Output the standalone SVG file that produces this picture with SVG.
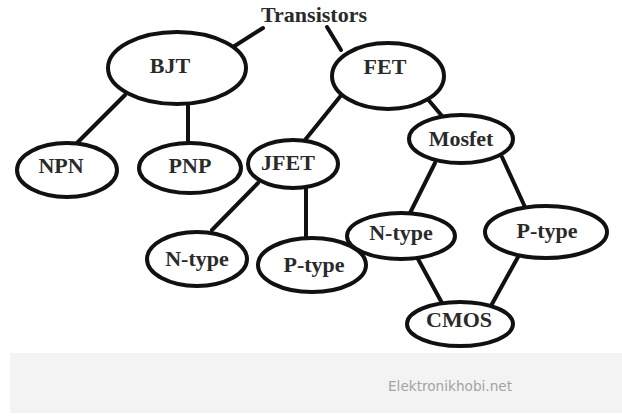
<svg xmlns="http://www.w3.org/2000/svg" width="622" height="419" viewBox="0 0 622 419">
<style>
.n ellipse{fill:#fff;stroke:#111;stroke-width:4}
.n text,.t{font-family:"Liberation Serif","Times New Roman",serif;font-weight:bold;font-size:22px;fill:#2a2a2a;text-anchor:middle}
#edges line{stroke:#111;stroke-width:4;stroke-linecap:round}
</style>
<rect width="622" height="419" fill="#fff"/>
<rect x="10" y="353" width="612" height="60" fill="#f3f3f3"/>
<text x="512" y="391" font-family="DejaVu Sans,Verdana,sans-serif" font-size="14" fill="#a3a3a3" text-anchor="end" textLength="124" lengthAdjust="spacingAndGlyphs">Elektronikhobi.net</text>
<g id="edges">
<line x1="263" y1="28" x2="233" y2="47"/>
<line x1="327" y1="27" x2="341" y2="50"/>
<line x1="125" y1="95" x2="77" y2="143"/>
<line x1="188" y1="104" x2="188" y2="142"/>
<line x1="343" y1="93" x2="305" y2="140"/>
<line x1="426" y1="97" x2="442" y2="116"/>
<line x1="258" y1="183" x2="212" y2="230"/>
<line x1="306" y1="188" x2="306" y2="238"/>
<line x1="435" y1="163" x2="410" y2="213"/>
<line x1="502" y1="157" x2="525" y2="207"/>
<line x1="418" y1="259" x2="442" y2="303"/>
<line x1="518" y1="257" x2="492" y2="304"/>
</g>
<g id="transistors"><text class="t" x="314" y="22">Transistors</text></g>
<g id="bjt" class="n"><ellipse cx="177" cy="68" rx="69" ry="36"/><text x="170" y="73">BJT</text></g>
<g id="fet" class="n"><ellipse cx="388" cy="76" rx="56" ry="33"/><text x="385" y="74">FET</text></g>
<g id="npn" class="n"><ellipse cx="67" cy="170" rx="50" ry="27"/><text x="61" y="173">NPN</text></g>
<g id="pnp" class="n"><ellipse cx="190" cy="168" rx="51" ry="25"/><text x="190" y="173">PNP</text></g>
<g id="jfet" class="n"><ellipse cx="293" cy="164" rx="45" ry="24"/><text x="288" y="170">JFET</text></g>
<g id="ntype1" class="n"><ellipse cx="197" cy="259" rx="50" ry="27"/><text x="197" y="266">N-type</text></g>
<g id="ptype1" class="n"><ellipse cx="312" cy="265" rx="54" ry="27"/><text x="314" y="272">P-type</text></g>
<g id="mosfet" class="n"><ellipse cx="461" cy="139" rx="52" ry="24"/><text x="461" y="146">Mosfet</text></g>
<g id="ntype2" class="n"><ellipse cx="401" cy="236" rx="54" ry="23"/><text x="401" y="240">N-type</text></g>
<g id="ptype2" class="n"><ellipse cx="546" cy="232" rx="61" ry="26"/><text x="547" y="238">P-type</text></g>
<g id="cmos" class="n"><ellipse cx="460" cy="324" rx="53" ry="22"/><text x="459" y="327">CMOS</text></g>
</svg>
